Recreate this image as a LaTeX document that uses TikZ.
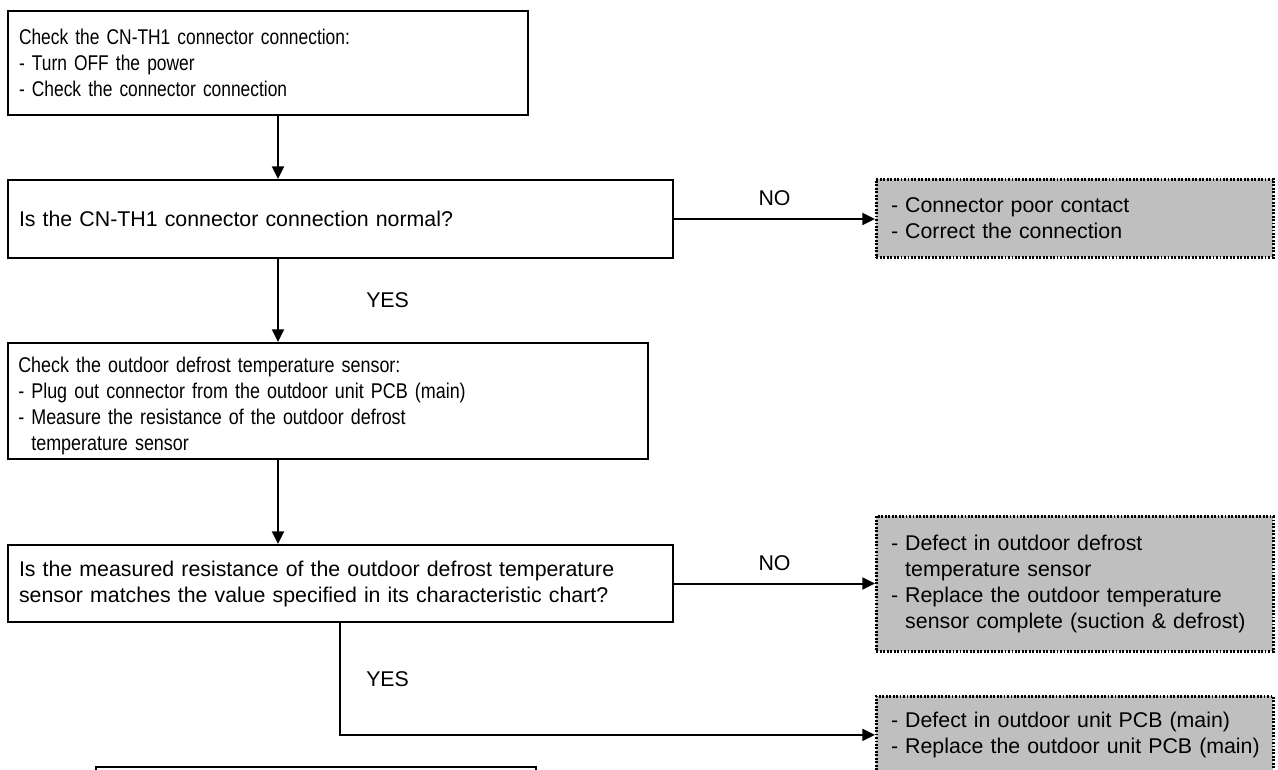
\documentclass[tikz,border=0pt]{standalone}
\usepackage{fontspec}
\setmainfont{Liberation Sans}
% condensed cuts of the same face for the longer instruction boxes
\newfontfamily\condA[FakeStretch=0.815]{Liberation Sans}
\newfontfamily\condB[FakeStretch=0.84]{Liberation Sans}
\usetikzlibrary{arrows.meta,calc}
\begin{document}
\begin{tikzpicture}[x=0.75pt,y=-0.75pt,
  every node/.style={font=\fontsize{16}{19.5}\selectfont},
  stepbox/.style={draw=black, line width=1.5pt, fill=white, rectangle,
    anchor=north west, inner xsep=8.25pt, inner ysep=0pt, align=left},
  resultbox/.style={draw=black, line width=2pt, fill=black!25, rectangle,
    dash pattern=on 1.4pt off 1.2pt,
    anchor=north west, inner xsep=11pt, inner ysep=0pt, align=left,
    minimum width=297.75pt, text width=275.75pt},
  conn/.style={line width=1.5pt, -{Triangle[length=9.5pt,width=9pt]}},
  lbl/.style={inner sep=0pt}]
\useasboundingbox (0,0) rectangle (1278,769);
\clip (0,0) rectangle (1278,769);
\fill[white] (0,0) rectangle (1278,769);

\coordinate (col) at (278,0);   % main vertical flow
\coordinate (col2) at (340,0);  % last YES branch
\coordinate (ycol) at (366,0);  % left edge of the YES labels

% main column of checks
\node[stepbox, minimum width=390pt, minimum height=78pt, text width=373.5pt] (box1) at (7,10)
  {\condA Check the CN-TH1 connector connection:\\
   \condA - Turn OFF the power\\
   \condA - Check the connector connection};
\node[stepbox, minimum width=498.75pt, minimum height=58.5pt, text width=482.25pt] (box2) at (7,179)
  {Is the CN-TH1 connector connection normal?};
\node[stepbox, minimum width=480pt, minimum height=87pt] (box3) at (7,342) {};
\node[lbl, anchor=west, align=left, text width=463.5pt, xshift=8.25pt, yshift=-4pt] (box3text) at (box3.west)
  {\condB Check the outdoor defrost temperature sensor:\\
   \condB - Plug out connector from the outdoor unit PCB (main)\\
   \condB - Measure the resistance of the outdoor defrost\\
   \condB \hphantom{-}\ temperature sensor};
\node[stepbox, minimum width=498.75pt, minimum height=57.75pt, text width=482.25pt] (box4) at (7,544)
  {Is the measured resistance of the outdoor defrost temperature\\
   sensor matches the value specified in its characteristic chart?};
\node[stepbox, minimum width=330pt, minimum height=60pt] (box5) at (95,766) {};

% outcomes
\node[resultbox, minimum height=58.5pt] (res1) at (875,178)
  {- Connector poor contact\\
   - Correct the connection};
\node[resultbox, minimum height=101.25pt] (res2) at (875,515)
  {- Defect in outdoor defrost\\
   \hphantom{-}\ temperature sensor\\
   - Replace the outdoor temperature\\
   \hphantom{-}\ \mbox{sensor complete (suction \& defrost)}};
\node[resultbox, minimum height=57.75pt] (res3) at (875,695)
  {\mbox{- Defect in outdoor unit PCB (main)}\\
   \mbox{- Replace the outdoor unit PCB (main)}};

% connectors
\draw[conn] (box1.south -| col) -- (box2.north -| col);
\draw[conn] (box2.east) -- (box2.east -| res1.west)
  node[lbl, pos=0.5, above=9pt] {NO};
\draw[conn] (box2.south -| col) -- (box3.north -| col);
\node[lbl, anchor=west] (yes1) at ($(box2.south -| ycol)!0.5!(box3.north -| ycol)$) {YES};
\draw[conn] (box3.south -| col) -- (box4.north -| col);
\draw[conn] (box4.east) -- (box4.east -| res2.west)
  node[lbl, pos=0.5, above=9pt] {NO};
\draw[conn] (box4.south -| col2) |- (res3.west);
\node[lbl, anchor=west] (yes2) at ($(box4.south -| ycol)!0.5!(res3.west -| ycol)$) {YES};
\end{tikzpicture}
\end{document}
